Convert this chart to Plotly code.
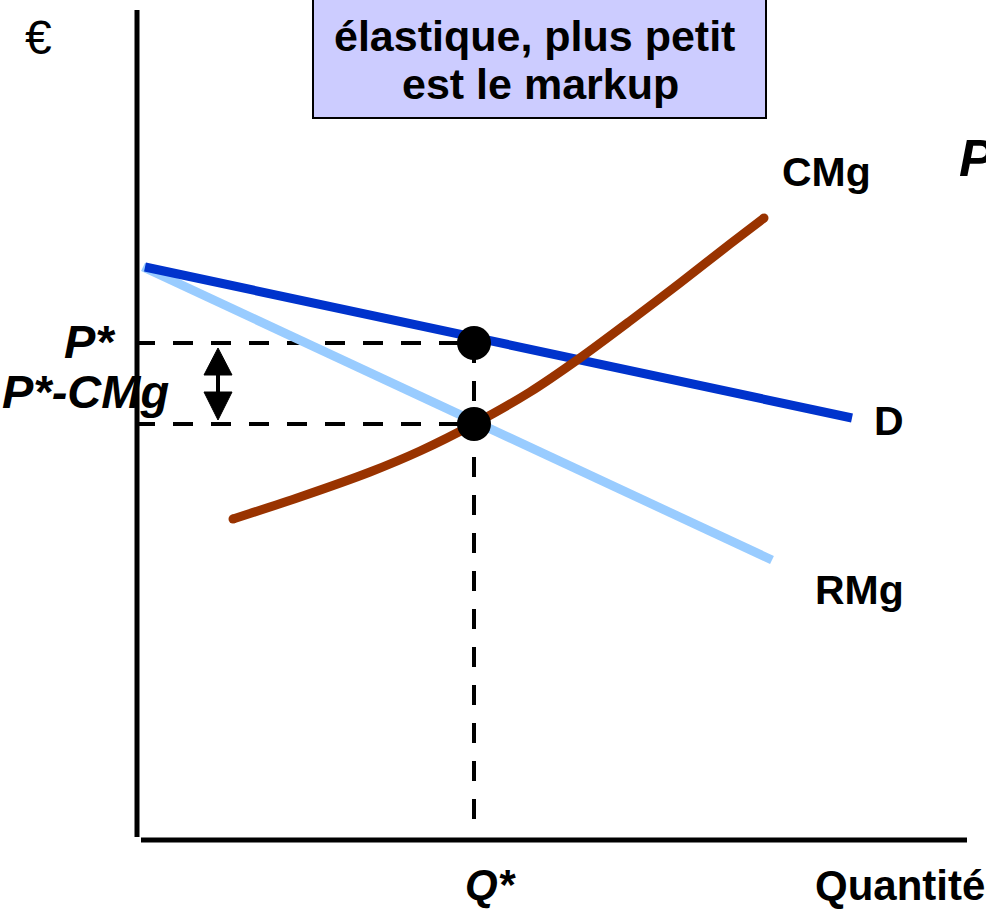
import plotly.graph_objects as go

# ---- data (quantity / price units) ----
d_q = [0.5, 71.2]
d_p = [57.3, 42.2]
rmg_q = [0.3, 63.2]
rmg_p = [57.3, 28.0]
cmg_q = [9.3, 16.0, 23.0, 28.0, 33.4, 39.0, 44.0, 49.0, 54.0, 59.0, 62.4]
cmg_p = [32.1, 34.3, 36.8, 38.9, 41.6, 44.8, 48.2, 51.9, 55.7, 59.6, 62.2]
q_star = 33.4
p_star = 49.7
cmg_star = 41.6
arrow_q = 7.8

W, H = 986, 913
X_RANGE = [-14.0, 84.6]
Y_RANGE = [-7.3, 84.0]


def px(x):
    return x / W


def py(y):
    return 1 - y / H


FONT = "Liberation Sans, Arial, sans-serif"

fig = go.Figure()

# dashed guide lines
dash = dict(color="black", width=4, dash="20px,18px")
fig.add_trace(go.Scatter(x=[-0.5, q_star], y=[p_star, p_star], mode="lines", line=dash, hoverinfo="skip"))
fig.add_trace(go.Scatter(x=[-0.5, q_star], y=[cmg_star, cmg_star], mode="lines", line=dash, hoverinfo="skip"))
fig.add_trace(go.Scatter(x=[q_star, q_star], y=[p_star, 1.3], mode="lines", line=dash, hoverinfo="skip"))

# curves
fig.add_trace(go.Scatter(x=rmg_q, y=rmg_p, mode="lines", line=dict(color="#99CCFF", width=9), hoverinfo="skip"))
fig.add_trace(go.Scatter(x=d_q, y=d_p, mode="lines", line=dict(color="#0033CC", width=9), hoverinfo="skip"))
fig.add_trace(go.Scatter(x=cmg_q, y=cmg_p, mode="lines",
                         line=dict(color="#993300", width=9, shape="spline", smoothing=0.8), hoverinfo="skip"))
fig.add_trace(go.Scatter(x=[cmg_q[0], cmg_q[-1]], y=[cmg_p[0], cmg_p[-1]], mode="markers",
                         marker=dict(color="#993300", size=9, line=dict(width=0)), hoverinfo="skip"))

# points
fig.add_trace(go.Scatter(x=[q_star, q_star], y=[p_star, cmg_star], mode="markers",
                         marker=dict(color="black", size=34, line=dict(width=0)), hoverinfo="skip"))

# double arrow
hw = 1.4
fig.add_trace(go.Scatter(x=[arrow_q, arrow_q], y=[p_star - 3.0, cmg_star + 3.0], mode="lines",
                         line=dict(color="black", width=4), hoverinfo="skip"))
fig.add_trace(go.Scatter(x=[arrow_q, arrow_q - hw, arrow_q + hw, arrow_q],
                         y=[p_star - 0.5, p_star - 3.2, p_star - 3.2, p_star - 0.5],
                         mode="lines", fill="toself", fillcolor="black", line=dict(color="black", width=1), hoverinfo="skip"))
fig.add_trace(go.Scatter(x=[arrow_q, arrow_q - hw, arrow_q + hw, arrow_q],
                         y=[cmg_star + 0.4, cmg_star + 3.2, cmg_star + 3.2, cmg_star + 0.4],
                         mode="lines", fill="toself", fillcolor="black", line=dict(color="black", width=1), hoverinfo="skip"))

# axes lines
fig.add_trace(go.Scatter(x=[-0.3, -0.3], y=[0.3, 83.0], mode="lines", line=dict(color="black", width=5), hoverinfo="skip"))
fig.add_trace(go.Scatter(x=[0.1, 82.7], y=[0, 0], mode="lines", line=dict(color="black", width=5), hoverinfo="skip"))

# title box
fig.add_shape(type="rect", xref="paper", yref="paper", x0=px(313), x1=px(766), y0=py(118), y1=py(-10),
              line=dict(color="black", width=2), fillcolor="#CCCCFF", layer="below")


def label(text, x, y, size, xanchor="center", italic=False, bold=True):
    t = text
    if italic:
        t = "<i>" + t + "</i>"
    if bold:
        t = "<b>" + t + "</b>"
    fig.add_annotation(text=t, xref="paper", yref="paper", x=px(x), y=py(y), xanchor=xanchor,
                       yanchor="middle", showarrow=False, font=dict(family=FONT, size=size, color="black"))


label("élastique, plus petit ", 540, 36, 43)
label("est le markup", 540, 84, 43)
label("€", 38, 38, 48, bold=False)
label("CMg", 826, 172, 41)
label("P", 957, 158, 52, xanchor="left", italic=True)
label("P*", 118, 341, 47, xanchor="right", italic=True)
label("P*-CMg", 0, 392, 47, xanchor="left", italic=True)
label("D", 889, 421, 41)
label("RMg", 859, 590, 41)
label("Q*", 490, 885, 42, italic=True)
label("Quantité", 813, 885, 42, xanchor="left")

fig.update_layout(
    width=W, height=H, autosize=False,
    margin=dict(l=0, r=0, t=0, b=0),
    paper_bgcolor="white", plot_bgcolor="white",
    showlegend=False,
    xaxis=dict(range=X_RANGE, visible=False, showgrid=False, zeroline=False, fixedrange=True),
    yaxis=dict(range=Y_RANGE, visible=False, showgrid=False, zeroline=False, fixedrange=True),
)

fig.write_html("out.html")
